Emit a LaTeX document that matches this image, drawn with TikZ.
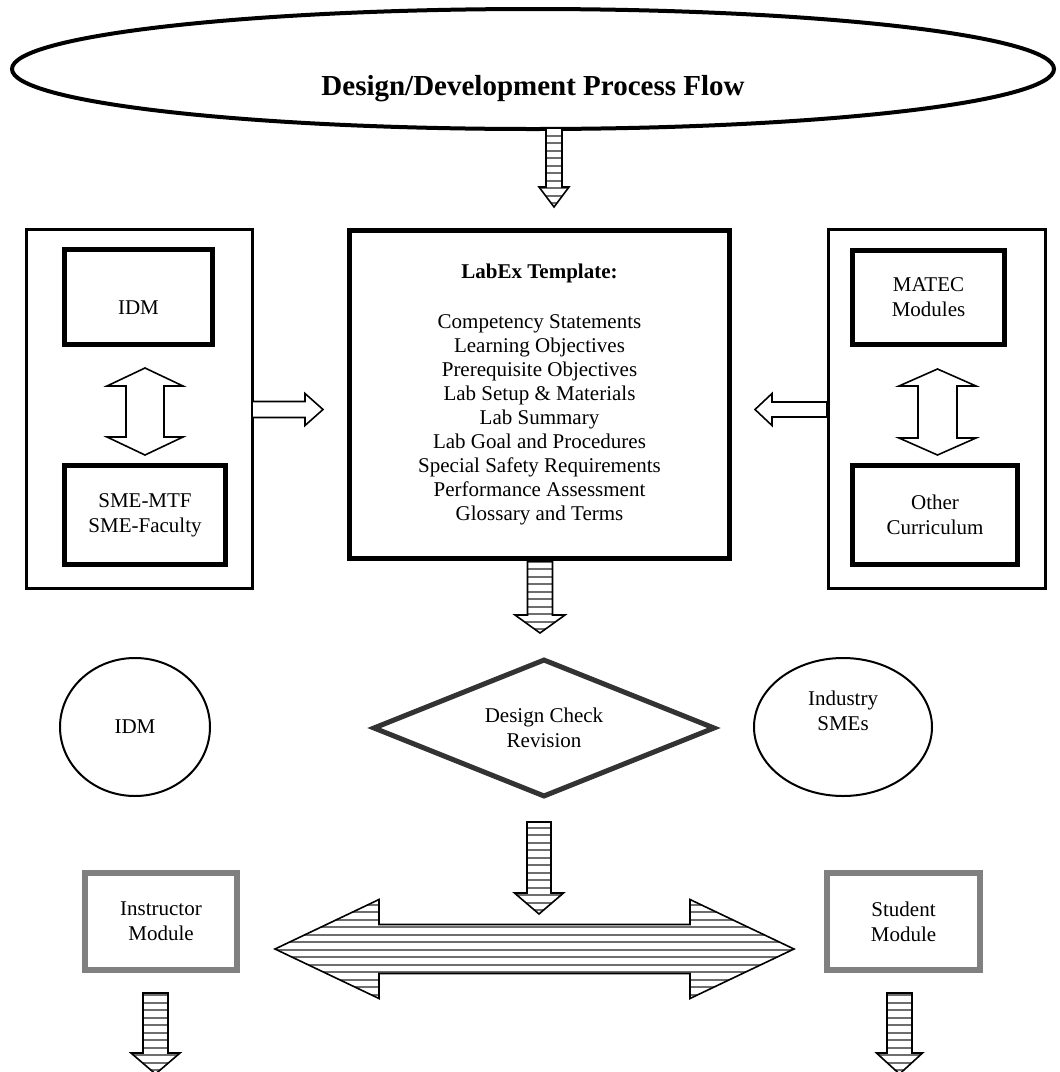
\documentclass[tikz,border=0pt]{standalone}
\usepackage{fontspec}
\setmainfont{Liberation Serif}
\usepackage{tikz}
\usetikzlibrary{shapes.geometric}

% block arrows: x (or y), start, tip, shaft half width, head half width, head length
\newcommand{\vblock}[7][hollow]{%
	\draw[#1] ({#2-#5},#3) -- ({#2+#5},#3) -- ({#2+#5},{#4-(#7)}) -- ({#2+#6},{#4-(#7)})
	-- (#2,#4) -- ({#2-#6},{#4-(#7)}) -- ({#2-#5},{#4-(#7)}) -- cycle;}
\newcommand{\hblock}[7][hollow]{%
	\draw[#1] (#3,{#2-#5}) -- ({#4-(#7)},{#2-#5}) -- ({#4-(#7)},{#2-#6}) -- (#4,#2)
	-- ({#4-(#7)},{#2+#6}) -- ({#4-(#7)},{#2+#5}) -- (#3,{#2+#5}) -- cycle;}
\newcommand{\vdouble}[7][hollow]{%
	\draw[#1] (#2,#3) -- ({#2+#6},{#3+#7}) -- ({#2+#5},{#3+#7}) -- ({#2+#5},{#4-#7})
	-- ({#2+#6},{#4-#7}) -- (#2,#4) -- ({#2-#6},{#4-#7}) -- ({#2-#5},{#4-#7})
	-- ({#2-#5},{#3+#7}) -- ({#2-#6},{#3+#7}) -- cycle;}
\newcommand{\hdouble}[7][hollow]{%
	\draw[#1] (#3,#2) -- ({#3+#7},{#2-#6}) -- ({#3+#7},{#2-#5}) -- ({#4-#7},{#2-#5})
	-- ({#4-#7},{#2-#6}) -- (#4,#2) -- ({#4-#7},{#2+#6}) -- ({#4-#7},{#2+#5})
	-- ({#3+#7},{#2+#5}) -- ({#3+#7},{#2+#6}) -- cycle;}

\begin{document}
\begin{tikzpicture}[x=0.5pt,y=-0.5pt,
	every node/.style={font=\fontsize{10.5}{12.5}\selectfont,align=center,inner sep=0pt},
	heavy box/.style={rectangle,draw,line width=2.5pt},
	panel/.style={rectangle,draw,line width=1.3pt},
	oval/.style={ellipse,draw,line width=1pt},
	module/.style={rectangle,draw=modgray,line width=3pt},
	hollow/.style={draw,fill=white,line width=0.8pt},
	stripe/.style={draw,line width=0.8pt,fill=white,
		path picture={\foreach \k in {1.9,5.65,...,60}
			\draw[stripegray,line width=0.9pt]
			([yshift=\k pt]path picture bounding box.south west) --
			([yshift=\k pt]path picture bounding box.south east);}}]
	
	\definecolor{modgray}{RGB}{128,128,128}
	\definecolor{diagray}{RGB}{51,51,51}
	\definecolor{stripegray}{RGB}{110,110,110}
	
	\useasboundingbox (0,0) rectangle (1060,1072);
	
	\node[ellipse,draw,line width=2pt,minimum width=521pt,minimum height=60pt] (flow) at (533,69) {};
	\node[font=\fontsize{14.5}{17}\selectfont\bfseries] (flowtitle) at (533,89) {Design/Development Process Flow};
	
	\node[heavy box,minimum width=190pt,minimum height=164pt,font=\fontsize{10.5}{12}\selectfont] (labex) at (539.5,394.5)
	{\textbf{LabEx Template:}\\[13pt]
		Competency Statements\\
		Learning Objectives\\
		Prerequisite Objectives\\
		Lab Setup \& Materials\\
		Lab Summary\\
		Lab Goal and Procedures\\
		Special Safety Requirements\\
		Performance Assessment\\
		Glossary and Terms};
	
	\node[panel,minimum width=113pt,minimum height=179.5pt] (leftpanel) at (139.5,409) {};
	\node[heavy box,minimum width=74pt,minimum height=47.5pt,label={[yshift=-5.5pt]center:IDM}] (idm) at (138.5,297) {};
	\node[heavy box,minimum width=80.5pt,minimum height=49.5pt] (sme) at (145,515) {SME-MTF\\SME-Faculty};
	
	\node[panel,minimum width=108.5pt,minimum height=179.5pt] (rightpanel) at (937,409) {};
	\node[heavy box,minimum width=76pt,minimum height=47pt] (matec) at (928.5,297.5) {MATEC\\Modules};
	\node[heavy box,minimum width=82.5pt,minimum height=49.5pt] (other) at (935,515) {Other\\Curriculum};
	
	\node[diamond,aspect=2.5,draw=diagray,line width=2.5pt,minimum width=171pt,minimum height=69pt] (check) at (544,728) {Design Check\\Revision};
	\node[oval,minimum width=75pt,minimum height=69pt] (idmoval) at (135,727) {IDM};
	\node[oval,minimum width=89pt,minimum height=69pt,label={[yshift=8pt]center:Industry\\SMEs}] (smes) at (843,727) {};
	
	\node[module,minimum width=76pt,minimum height=48.5pt] (instructor) at (161,921.5) {Instructor\\Module};
	\node[module,minimum width=76.5pt,minimum height=48.5pt] (student) at (903.5,921.5) {Student\\Module};
	
	\vdouble{145}{368}{455}{19}{38}{18}
	\vdouble{937.5}{369}{455}{19.5}{38.5}{17}
	\hblock{409.5}{252}{323}{8}{16}{18}
	\hblock{409.5}{827}{755}{7.5}{16}{-17}
	
	\vblock[stripe]{554}{128}{207}{8}{15}{20}
	\vblock[stripe]{540}{561}{633}{12.5}{25}{18}
	\vblock[stripe]{539}{822}{914}{12}{24.5}{21}
	\hdouble[stripe]{949}{275}{794}{24.5}{49.5}{104}
	\vblock[stripe]{155.5}{993}{1074}{12.5}{24.5}{21}
	\vblock[stripe]{899.5}{993}{1074}{12.5}{23}{21}
\end{tikzpicture}
\end{document}
